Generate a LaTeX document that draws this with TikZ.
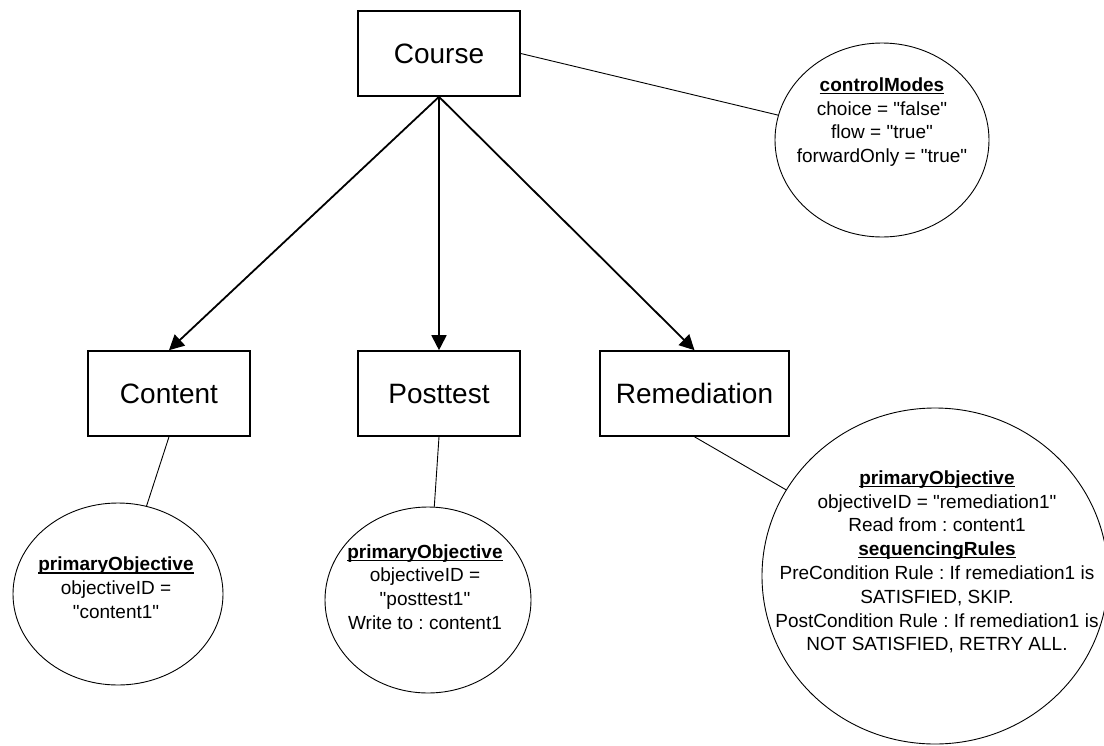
\documentclass[tikz,border=0pt]{standalone}
\usepackage{fontspec}
\setmainfont{Liberation Sans}[Ligatures=TeXOff]
\usetikzlibrary{arrows.meta,shapes.geometric}
\frenchspacing
% bold heading with a rule under it
\newcommand\headul[1]{\setbox0\hbox{\bfseries #1}\rlap{\rule[-2.6pt]{\wd0}{1.1pt}}\box0}

\begin{document}
\begin{tikzpicture}[x=1pt,y=-1pt,
  entity/.style={draw, line width=1.6pt, rectangle, minimum width=162pt,
    minimum height=85pt, inner sep=0pt, font=\fontsize{28}{32}\selectfont},
  objective/.style={draw, line width=0.9pt, ellipse, inner sep=0pt},
  objtext/.style={align=center, inner sep=0pt,
    font=\fontsize{19}{23.8}\selectfont},
  child/.style={-{Triangle[length=15pt,width=15pt]}, line width=1.8pt},
  link/.style={line width=0.9pt}]
\useasboundingbox (0,0) rectangle (1104,745);
\fill[white] (0,0) rectangle (1104,745);

% activity tree
\node[entity] (course) at (439,53.5) {Course};
\node[entity] (content) at (169,393.5) {Content};
\node[entity] (posttest) at (439,393.5) {Posttest};
\node[entity, minimum width=189pt] (remediation) at (694.5,393.5) {Remediation};

% sequencing information attached to the activities
\node[objective, minimum width=214pt, minimum height=194pt] (ctrl) at (882,140) {};
\node[objtext] (ctrltext) at (882,122)
  {\headul{controlModes}\\choice = "false"\\flow = "true"\\forwardOnly = "true"};

\node[objective, minimum width=210pt, minimum height=182pt] (contentobj) at (118,594) {};
\node[objtext] (contenttext) at (116,588)
  {\headul{primaryObjective}\\objectiveID =\\"content1"};

\node[objective, minimum width=206pt, minimum height=186pt] (postobj) at (428,600) {};
\node[objtext] (posttext) at (425,587)
  {\headul{primaryObjective}\\objectiveID =\\"posttest1"\\Write to : content1};

\node[objective, minimum width=346pt, minimum height=336pt] (remobj) at (935,576) {};
\node[objtext] (remtext) at (937,562)
  {\headul{primaryObjective}\\objectiveID = "remediation1"\\Read from : content1\\
   \headul{sequencingRules}\\PreCondition Rule : If remediation1 is\\SATISFIED, SKIP.\\
   PostCondition Rule : If remediation1 is\\NOT SATISFIED, RETRY ALL.};

% connectors
\draw[child] (course.south) -- (content.north);
\draw[child] (course.south) -- (posttest.north);
\draw[child] (course.south) -- (remediation.north);
\draw[link] (course.east) -- (ctrl);
\draw[link] (content.south) -- (contentobj);
\draw[link] (posttest.south) -- (postobj);
\draw[link] (remediation.south) -- (remobj);
\end{tikzpicture}
\end{document}
